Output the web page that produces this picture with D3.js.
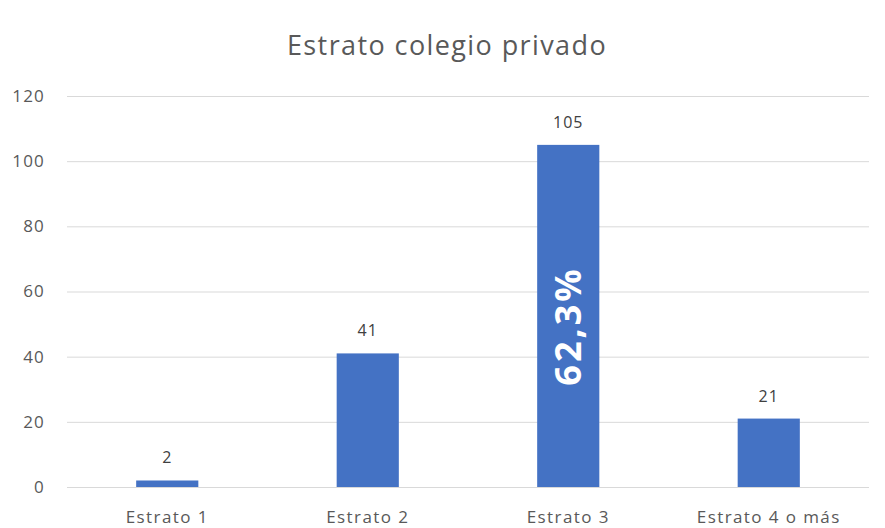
<!DOCTYPE html>
<html>
<head>
<meta charset="utf-8">
<script src="https://cdn.jsdelivr.net/npm/d3@7"></script>
<style>
  body { margin: 0; background: #fff; }
  svg { font-family: "Open Sans", "Liberation Sans", sans-serif; }
</style>
</head>
<body>
<div id="chart"></div>
<script>
// chart values
var categories = ["Estrato 1", "Estrato 2", "Estrato 3", "Estrato 4 o más"];
var values = [2, 41, 105, 21];
var yTicks = [0, 20, 40, 60, 80, 100, 120];
var highlight = {category: "Estrato 3", label: "62,3%"};
var title = "Estrato colegio privado";

var width = 885, height = 528;
var margin = {top: 96, right: 16, bottom: 41, left: 67};

var svg = d3.select("#chart").append("svg")
  .attr("width", width)
  .attr("height", height);

var x = d3.scaleBand()
  .domain(categories)
  .range([margin.left, width - margin.right])
  .paddingInner(0.69)
  .paddingOuter(0.345);

var y = d3.scaleLinear()
  .domain([0, 120])
  .range([height - margin.bottom, margin.top]);

// title
svg.append("text")
  .attr("x", 447)
  .attr("y", 55)
  .attr("text-anchor", "middle")
  .style("font-size", "27px")
  .style("letter-spacing", "1.4px")
  .style("fill", "#595959")
  .text(title);

// gridlines
svg.append("g")
  .selectAll("line")
  .data(yTicks)
  .enter()
  .append("line")
  .attr("x1", margin.left)
  .attr("x2", width - margin.right)
  .attr("y1", d => y(d) + 0.5)
  .attr("y2", d => y(d) + 0.5)
  .style("stroke", "#d9d9d9")
  .style("stroke-width", 1);

// y axis labels
var yAxis = d3.axisLeft(y).tickValues(yTicks).tickSize(0).tickPadding(0);
svg.append("g")
  .attr("transform", "translate(" + (margin.left - 22) + ",0)")
  .call(yAxis)
  .call(g => g.select(".domain").remove())
  .selectAll("text")
  .style("font-size", "17px")
  .style("letter-spacing", "1.2px")
  .style("font-family", "'Open Sans', sans-serif")
  .style("fill", "#595959");

// x axis labels
var xAxis = d3.axisBottom(x).tickSize(0).tickPadding(0);
svg.append("g")
  .attr("transform", "translate(0," + (height - margin.bottom + 24) + ")")
  .call(xAxis)
  .call(g => g.select(".domain").remove())
  .selectAll("text")
  .style("font-size", "17px")
  .style("letter-spacing", "1.4px")
  .style("font-family", "'Open Sans', sans-serif")
  .style("fill", "#595959");

// bars
var data = categories.map((c, i) => ({category: c, value: values[i]}));

svg.selectAll(".bar").data(data)
  .enter()
  .append("rect")
  .attr("class", "bar")
  .attr("x", d => x(d.category))
  .attr("width", x.bandwidth())
  .attr("y", d => y(d.value))
  .attr("height", d => y(0) - y(d.value))
  .style("fill", "#4472c4");

// value labels
svg.selectAll(".val").data(data)
  .enter()
  .append("text")
  .attr("class", "val")
  .attr("x", d => x(d.category) + x.bandwidth() / 2)
  .attr("y", d => y(d.value) - 17)
  .attr("text-anchor", "middle")
  .style("font-size", "16px")
  .style("letter-spacing", "1px")
  .style("fill", "#404040")
  .text(d => d.value);

// rotated percentage inside highlighted bar
var hv = values[categories.indexOf(highlight.category)];
var hx = x(highlight.category) + x.bandwidth() / 2;
var hy = (y(hv) + y(0)) / 2 + 10;
svg.append("text")
  .attr("transform", "translate(" + (hx + 13) + "," + hy + ") rotate(-90)")
  .attr("text-anchor", "middle")
  .style("font-size", "36px")
  .style("letter-spacing", "3px")
  .style("font-weight", "bold")
  .style("fill", "#ffffff")
  .text(highlight.label);
</script>
</body>
</html>
